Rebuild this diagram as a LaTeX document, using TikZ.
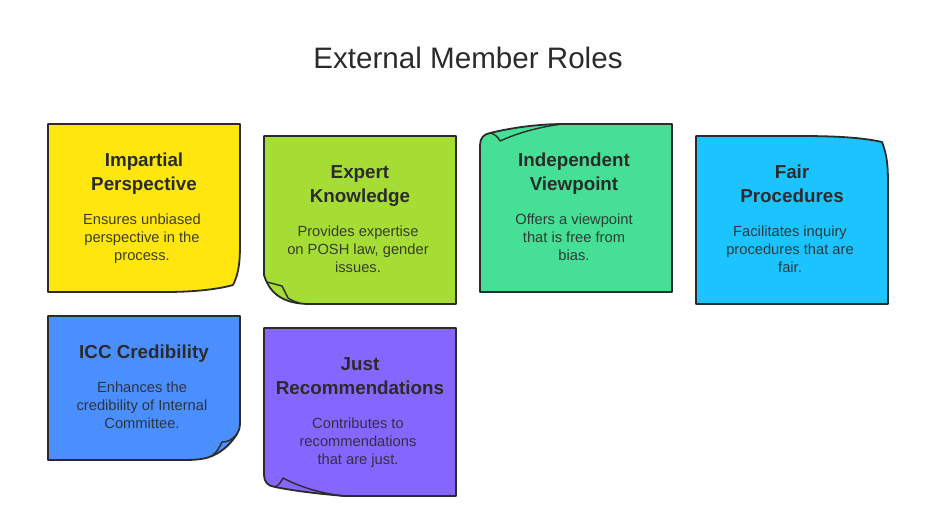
\documentclass[tikz,border=0pt]{standalone}
\usepackage{fontspec}
\setmainfont{Liberation Sans}
\usetikzlibrary{positioning}

\definecolor{inkdark}{HTML}{2B2B2B}
\definecolor{noteyellow}{HTML}{FFE60F}
\definecolor{notelime}{HTML}{A6DD35}
\definecolor{noteteal}{HTML}{45E096}
\definecolor{notesky}{HTML}{1CC4FF}
\definecolor{noteblue}{HTML}{4B8FFF}
\definecolor{notepurple}{HTML}{8566FF}

\tikzset{
  note/.style={draw=inkdark, line width=1.8pt, line join=round},
  fold/.style={draw=inkdark, line width=1.4pt, line join=round},
  head/.style={font=\fontsize{18.8}{24}\selectfont\bfseries, text=inkdark, align=center, inner sep=0pt, text depth=4pt},
  desc/.style={font=\fontsize{14.7}{18}\selectfont, text=inkdark, text opacity=0.9, align=center, inner sep=0pt, below=19pt of #1, xshift=-2pt}
}

\begin{document}
\begin{tikzpicture}[x=1pt, y=-1pt]
\useasboundingbox (0,0) rectangle (936,515);

\node[font=\fontsize{29.6}{34}\selectfont, text=inkdark, inner sep=0pt] (title) at (468,58) {External Member Roles};

% first row
\draw[note, fill=noteyellow] (48,124) -- (240,124) -- (240,245) .. controls (240,265) and (238,275) .. (233,285) .. controls (215,290) and (190,292) .. (165,292) -- (48,292) -- cycle;
\node[head] (impartial) at (144,174) {Impartial\\Perspective};
\node[desc=impartial] (impartialtxt) {Ensures unbiased\\perspective in the\\process.};

\draw[note, fill=notelime] (264,136) -- (456,136) -- (456,304) -- (310,304) .. controls (285,304) and (270,295) .. (264,275) -- cycle;
\draw[fold] (267,282) -- (282,286) -- (288,298) .. controls (291,300) and (295,302) .. (300,303);
\node[head] (expert) at (360,186) {Expert\\Knowledge};
\node[desc=expert] (experttxt) {Provides expertise\\on POSH law, gender\\issues.};

\draw[note, fill=noteteal] (672,124) -- (672,292) -- (480,292) -- (480,145) .. controls (480,138) and (484,134) .. (490,133) .. controls (515,127) and (540,124) .. (565,124) -- cycle;
\draw[fold] (490,133) .. controls (495,134) and (498,137) .. (500,141) .. controls (520,132) and (540,127) .. (562,124);
\node[head] (independent) at (574,174) {Independent\\Viewpoint};
\node[desc=independent, xshift=2pt] (independenttxt) {Offers a viewpoint\\that is free from\\bias.};

\draw[note, fill=notesky] (696,136) -- (800,136) .. controls (830,136) and (860,137) .. (882,142) .. controls (887,155) and (888,165) .. (888,185) -- (888,304) -- (696,304) -- cycle;
\node[head] (fair) at (792,186) {Fair\\Procedures};
\node[desc=fair] (fairtxt) {Facilitates inquiry\\procedures that are\\fair.};

% second row
\draw[note, fill=noteblue] (48,316) -- (240,316) -- (240,422) .. controls (240,428) and (239,431) .. (237,434) .. controls (232,442) and (224,451) .. (212,456) .. controls (203,460) and (192,460) .. (180,460) -- (48,460) -- cycle;
\draw[fold] (237,434) .. controls (232,440) and (228,442) .. (222,442) .. controls (219,448) and (217,452) .. (212,456);
\node[head] (icc) at (144,354) {ICC Credibility};
\node[desc=icc] (icctxt) {Enhances the\\credibility of Internal\\Committee.};

\draw[note, fill=notepurple] (264,328) -- (456,328) -- (456,496) -- (345,496) .. controls (320,494) and (295,491) .. (275,487) .. controls (268,486) and (264,482) .. (264,475) -- cycle;
\draw[fold] (275,487) .. controls (279,485) and (281,482) .. (283,478) .. controls (300,487) and (320,493) .. (343,496);
\node[head] (just) at (360,378) {Just\\Recommendations};
\node[desc=just] (justtxt) {Contributes to\\recommendations\\that are just.};
\end{tikzpicture}
\end{document}
